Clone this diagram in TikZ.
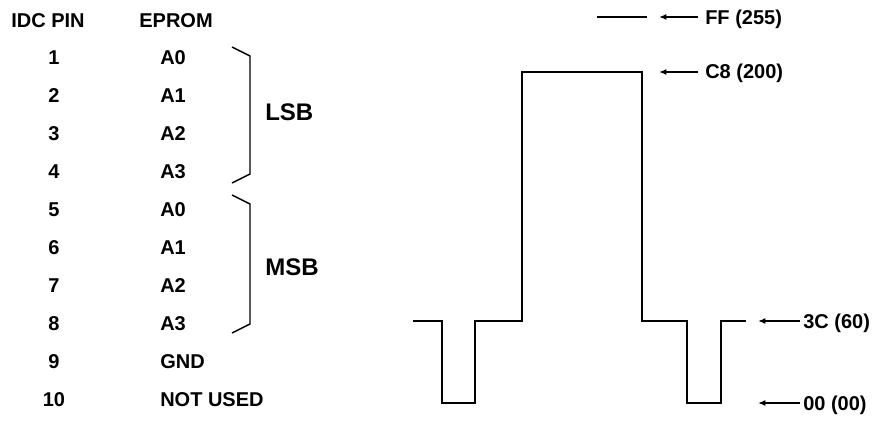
\documentclass[tikz,border=0pt]{standalone}
\usepackage{fontspec}
\setmainfont{Liberation Sans}
\usetikzlibrary{arrows.meta}
\begin{document}
\begin{tikzpicture}[x=0.75pt,y=-0.75pt,
  txt/.style={inner sep=0pt,font=\fontsize{15}{18}\selectfont\bfseries},
  numtxt/.style={txt,anchor=base},
  pintxt/.style={txt,anchor=base west},
  bigtxt/.style={inner sep=0pt,anchor=base west,font=\fontsize{18}{22}\selectfont\bfseries},
  brace/.style={line width=1.1pt,line join=miter},
  wave/.style={line width=1.5pt,line join=miter,line cap=rect},
  arr/.style={line width=1.1pt,-{Latex[length=5.5pt,width=4.5pt]}}]
\useasboundingbox (0,0) rectangle (883,421);

% column headers
\node[txt,anchor=base] (hdrpin) at (48,27) {IDC PIN};
\node[txt,anchor=base] (hdrrom) at (176,27) {EPROM};

% pin numbers and EPROM signals, one row each 38px
\foreach \n/\s [count=\i from 0] in {1/A0,2/A1,3/A2,4/A3,5/A0,6/A1,7/A2,8/A3,9/GND,10/NOT USED}{
  \node[numtxt] (pin\n) at (54,{64+38*\i}) {\n};
  \node[pintxt] (sig\n) at (160,{64+38*\i}) {\s};
}

% braces grouping the nibbles
\draw[brace] (232,47) -- (250,56) -- (250,174) -- (232,183);
\draw[brace] (232,195) -- (250,204) -- (250,324) -- (232,333);
\node[bigtxt] (lsb) at (265,120) {LSB};
\node[bigtxt] (msb) at (265,275) {MSB};

% output waveform
\draw[wave] (414,321) -- (442,321) -- (442,403) -- (475,403) -- (475,321)
  -- (522,321) -- (522,72) -- (642,72) -- (642,321) -- (687,321)
  -- (687,403) -- (721,403) -- (721,321) -- (745,321);
\draw[wave] (598,17) -- (646,17);

% level markers
\coordinate (ffTail) at (698,17);  \coordinate (ffTip) at (659,17);
\coordinate (c8Tail) at (698,72);  \coordinate (c8Tip) at (659,72);
\coordinate (x3cTail) at (800,321); \coordinate (x3cTip) at (758,321);
\coordinate (zTail) at (800,403);  \coordinate (zTip) at (758,403);
\draw[arr] (ffTail) -- (ffTip);
\draw[arr] (c8Tail) -- (c8Tip);
\draw[arr] (x3cTail) -- (x3cTip);
\draw[arr] (zTail) -- (zTip);
\node[pintxt] (ff) at (705,24) {FF (255)};
\node[pintxt] (c8) at (705,79) {C8 (200)};
\node[pintxt] (x3c) at (803,328) {3C (60)};
\node[pintxt] (zero) at (803,410) {00 (00)};
\end{tikzpicture}
\end{document}
